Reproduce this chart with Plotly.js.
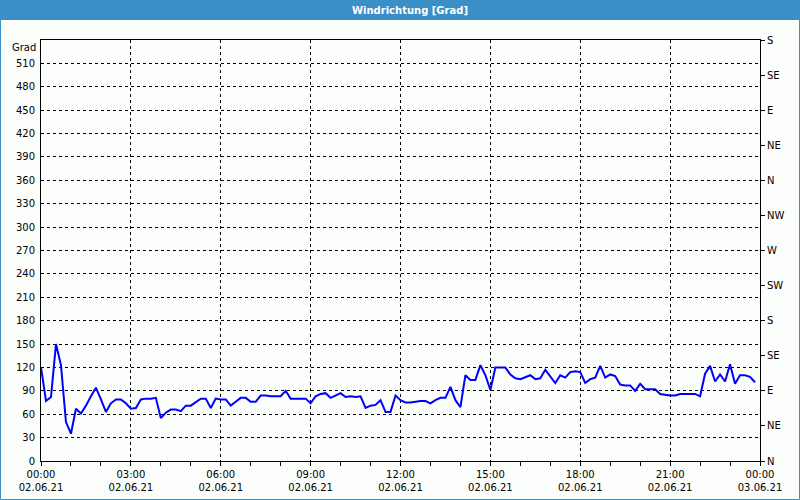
<!DOCTYPE html>
<html>
<head>
<meta charset="utf-8">
<script src="https://cdn.plot.ly/plotly-3.0.1.min.js"></script>
<style>
  html, body { margin: 0; padding: 0; background: #fcfefc; }
  #chart { width: 800px; height: 500px; }
</style>
</head>
<body>
<div id="chart"></div>
<script>
// Wind direction in degrees, 10-minute samples, 02.06.21
const start = '2021-06-02T00:00:00Z';
const end = '2021-06-03T00:00:00Z';
const stepMinutes = 10;

const dir00to06 = [
  120, 77, 82, 150, 123, 50,
  35, 67, 61, 71, 83, 94,
  79, 63, 74, 79, 79, 74,
  67, 68, 79, 80, 80, 81,
  55, 62, 66, 66, 64, 71,
  71, 76, 80, 80, 68, 80
];
const dir06to12 = [
  79, 79, 71, 76, 81, 81,
  76, 76, 84, 84, 83, 83,
  83, 90, 80, 80, 80, 80,
  74, 83, 86, 87, 81, 84,
  87, 82, 83, 82, 83, 68,
  71, 72, 78, 63, 63, 84
];
const dir12to18 = [
  78, 75, 75, 76, 77, 77,
  74, 78, 81, 81, 95, 78,
  69, 110, 104, 104, 123, 110,
  91, 120, 120, 120, 111, 106,
  105, 107, 110, 105, 106, 117,
  108, 100, 110, 107, 114, 115
];
const dir18to24 = [
  114, 100, 105, 107, 122, 107,
  111, 109, 98, 97, 97, 90,
  99, 92, 92, 92, 86, 85,
  84, 84, 86, 86, 86, 86,
  83, 112, 122, 102, 111, 102,
  124, 99, 110, 110, 108, 101
];

const leftTickVals = [0,30,60,90,120,150,180,210,240,270,300,330,360,390,420,450,480,510];
const rightTickVals = [0,45,90,135,180,225,270,315,360,405,450,495,540];
const rightTickText = ['N','NE','E','SE','S','SW','W','NW','N','NE','E','SE','S'];
const titleText = 'Windrichtung [Grad]';
const unitLabel = 'Grad';

const values = dir00to06.concat(dir06to12, dir12to18, dir18to24);
const t0 = Date.parse(start);
const times = values.map((_, i) => new Date(t0 + i * stepMinutes * 60000).toISOString());

// layout geometry
const W = 800, H = 500;
const m = {l: 41, r: 40, t: 40, b: 39};
const pw = W - m.l - m.r, ph = H - m.t - m.b;
const px = x => (x - m.l) / pw;           // pixel x -> paper x
const py = y => (H - m.b - y) / ph;       // pixel y -> paper y

const font = {family: 'DejaVu Sans, Verdana, sans-serif', size: 10, color: '#000'};

const traces = [
  {
    x: times, y: values, type: 'scatter', mode: 'lines',
    line: {color: '#0000ff', width: 2},
    hoverinfo: 'skip', showlegend: false
  },
  {
    x: [times[0]], y: [null], type: 'scatter', mode: 'lines',
    yaxis: 'y2', hoverinfo: 'skip', showlegend: false
  }
];

const layout = {
  width: W, height: H,
  margin: m,
  paper_bgcolor: '#fcfefc',
  plot_bgcolor: '#fcfefc',
  font: font,
  showlegend: false,
  title: {
    text: '<b>' + titleText + '</b>',
    font: {family: 'DejaVu Sans, Verdana, sans-serif', size: 10, color: '#ffffff'},
    x: 410 / W, xref: 'container', xanchor: 'center',
    y: 1 - 10 / H, yref: 'container', yanchor: 'middle'
  },
  xaxis: {
    type: 'date',
    range: [start, end],
    tickmode: 'linear',
    tick0: start,
    dtick: 3 * 3600000,
    tickformat: '%H:%M<br>%d.%m.%y',
    ticks: 'outside', ticklen: 4, tickcolor: '#000', tickwidth: 1,
    minor: {dtick: 3600000, ticks: 'outside', ticklen: 4, tickcolor: '#000', showgrid: false},
    showgrid: true, gridcolor: '#000', gridwidth: 1, griddash: '3px,3px',
    showline: true, linecolor: '#000', linewidth: 1, mirror: true,
    zeroline: false, fixedrange: true,
    tickfont: font
  },
  yaxis: {
    range: [0, 540],
    tickmode: 'array', tickvals: leftTickVals,
    ticks: '', ticklabelstandoff: 3,
    showgrid: true, gridcolor: '#000', gridwidth: 1, griddash: '3px,3px',
    showline: true, linecolor: '#000', linewidth: 1, mirror: true,
    zeroline: false, fixedrange: true,
    tickfont: font
  },
  yaxis2: {
    overlaying: 'y', side: 'right',
    range: [0, 540],
    tickmode: 'array', tickvals: rightTickVals, ticktext: rightTickText,
    ticks: 'outside', ticklen: 4, tickcolor: '#000',
    showgrid: false, showline: true, linecolor: '#000', linewidth: 1,
    zeroline: false, fixedrange: true,
    tickfont: font
  },
  annotations: [
    {
      text: unitLabel, xref: 'paper', yref: 'paper',
      x: 0, y: 1, xanchor: 'right', yanchor: 'top',
      xshift: -3, yshift: 0, showarrow: false, font: font
    }
  ],
  shapes: [
    { // title bar
      type: 'rect', xref: 'paper', yref: 'paper', layer: 'below',
      x0: px(0), x1: px(W), y0: py(20), y1: py(0),
      fillcolor: '#3b8fc7', line: {width: 0}
    },
    { // outer border
      type: 'rect', xref: 'paper', yref: 'paper', layer: 'above',
      x0: px(0.5), x1: px(W - 0.5), y0: py(H - 0.5), y1: py(0.5),
      fillcolor: 'rgba(0,0,0,0)', line: {color: '#3b8fc7', width: 1}
    }
  ]
};

Plotly.newPlot('chart', traces, layout, {staticPlot: true, displayModeBar: false});
</script>
</body>
</html>
